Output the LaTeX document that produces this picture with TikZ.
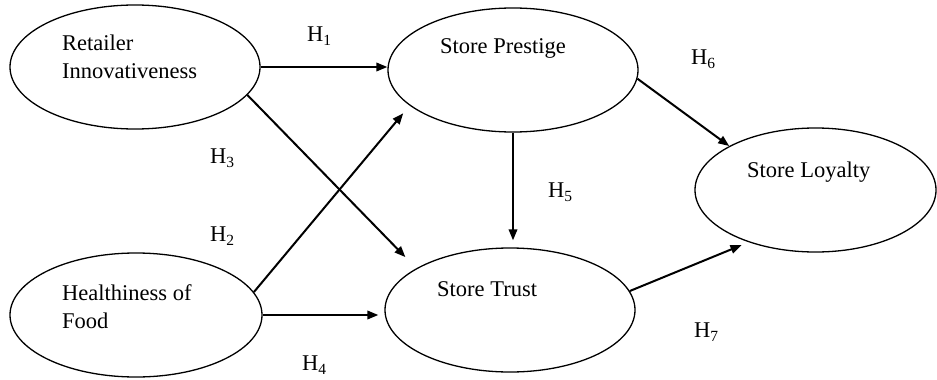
\documentclass[tikz,border=0pt]{standalone}
\usepackage{fontspec}
\setmainfont{Liberation Serif}
\usetikzlibrary{arrows.meta,shapes.geometric}
\newcommand{\Hyp}[1]{H\raisebox{-4.5pt}{\fontsize{15.5}{15.5}\selectfont #1}}
\tikzset{
  construct/.style={draw, ellipse, line width=1.3pt, inner sep=0pt},
  ctext/.style={anchor=north west, align=left, inner sep=0pt, font=\fontsize{22.5}{28}\selectfont},
  hlabel/.style={anchor=base west, inner sep=0pt, font=\fontsize{22.5}{26}\selectfont},
  link/.style={line width=2pt, -{Triangle[length=11pt,width=8.5pt]}},
}
\begin{document}
\begin{tikzpicture}[x=1pt,y=-1pt]
\useasboundingbox (0,0) rectangle (937,380);
% constructs
\node[construct, minimum width=250pt, minimum height=124pt] (ret) at (135,67) {};
\node[construct, minimum width=250pt, minimum height=124pt] (sp)  at (513,70) {};
\node[construct, minimum width=252pt, minimum height=124pt] (hf)  at (136,315) {};
\node[construct, minimum width=250pt, minimum height=124pt] (st)  at (510,310) {};
\node[construct, minimum width=241pt, minimum height=124pt] (sl)  at (815.5,190) {};
% texts
\node[ctext] (tret) at (62,34.5) {Retailer\\Innovativeness};
\node[ctext] (tsp)  at (440,38.5) {Store Prestige};
\node[ctext] (thf)  at (62,284.5) {Healthiness of\\Food};
\node[ctext] (tst)  at (437,281.5) {Store Trust};
\node[ctext] (tsl)  at (747,161.5) {Store Loyalty};
% connectors
\draw[link] (ret.east) -- (ret.east -| sp.west);
\draw[link, shorten >=10pt] (hf.11.9) -- (sp.199.7);
\draw[link, shorten >=15.6pt] (ret.-14.5) -- (st.156.6);
\draw[link, shorten >=6pt] (hf.east) -- (hf.east -| st.west);
\draw[link, shorten >=7pt] (sp.south) -- (sp.south |- st.north);
\draw[link] (sp.-4.2) -- (sl.153.2);
\draw[link, shorten >=7.7pt] (st.9.5) -- (sl.218.9);
% hypothesis labels
\node[hlabel] (h1) at (307,41) {\Hyp{1}};
\node[hlabel] (h2) at (210,241) {\Hyp{2}};
\node[hlabel] (h3) at (210,163) {\Hyp{3}};
\node[hlabel] (h4) at (302,370) {\Hyp{4}};
\node[hlabel] (h5) at (548,197) {\Hyp{5}};
\node[hlabel] (h6) at (691,64) {\Hyp{6}};
\node[hlabel] (h7) at (694,337) {\Hyp{7}};
\end{tikzpicture}
\end{document}
